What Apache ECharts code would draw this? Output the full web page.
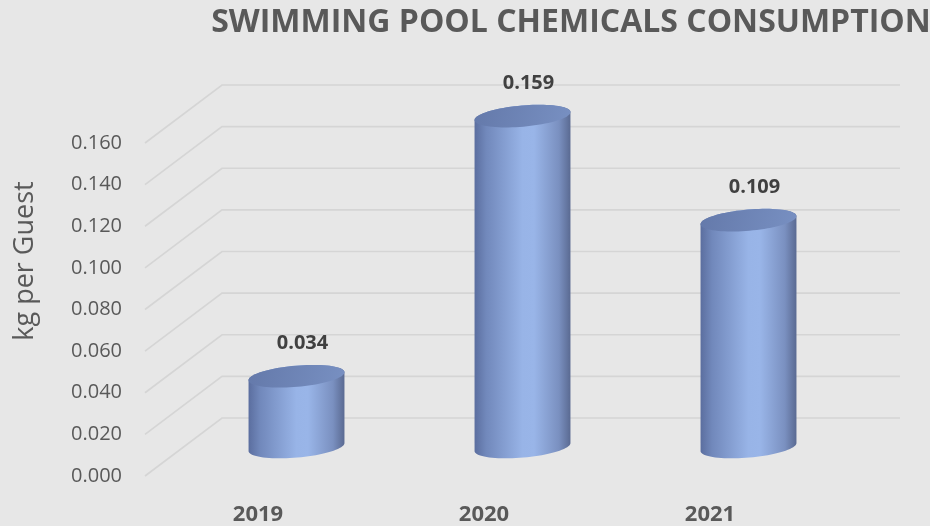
<!DOCTYPE html>
<html><head><meta charset="utf-8">
<script src="https://cdn.jsdelivr.net/npm/echarts@6/dist/echarts.min.js"></script>
<style>html,body{margin:0;padding:0;background:#e7e7e7}#c{width:930px;height:526px}</style>
</head><body><div id="c"></div>
<script>
const categories = ['2019', '2020', '2021'];
const values = [0.034, 0.159, 0.109];
const yTicks = [0, 0.02, 0.04, 0.06, 0.08, 0.10, 0.12, 0.14, 0.16];
const titleText = 'SWIMMING POOL CHEMICALS CONSUMPTION';
const yName = 'kg per Guest';

const DX = 77, DY = -58;           // depth offset of back wall
const FONT = '"Open Sans", "Liberation Sans", sans-serif';
const TEXT = '#595959';

function ellipsePts(cx, cy, rx, ry, rot, t0, t1, n) {
  const pts = [], c = Math.cos(rot), s = Math.sin(rot);
  for (let i = 0; i <= n; i++) {
    const t = t0 + (t1 - t0) * i / n;
    const x = rx * Math.cos(t), y = ry * Math.sin(t);
    pts.push([cx + x * c - y * s, cy + x * s + y * c]);
  }
  return pts;
}

const chart = echarts.init(document.getElementById('c'), null, {renderer: 'canvas'});
chart.setOption({
  backgroundColor: '#e7e7e7',
  animation: false,
  title: {
    text: titleText, left: 566, top: 2, textAlign: 'center',
    textStyle: {fontFamily: FONT, fontSize: 32, fontWeight: 'bold', color: TEXT}
  },
  graphic: [{
    type: 'text', x: 25, y: 261, rotation: Math.PI / 2,
    style: {text: yName, font: '27px ' + FONT, fill: TEXT,
      textAlign: 'center', textVerticalAlign: 'middle', align: 'center', verticalAlign: 'middle'}
  }],
  grid: {left: 145, right: 107, top: 143, bottom: 47, containLabel: false},
  xAxis: {
    type: 'category', data: categories,
    axisLine: {show: false}, axisTick: {show: false}, splitLine: {show: false},
    axisLabel: {margin: 28, fontFamily: FONT, fontSize: 22, fontWeight: 'bold', color: TEXT}
  },
  yAxis: {
    type: 'value', min: 0, max: 0.16, interval: 0.02,
    axisLine: {show: false}, axisTick: {show: false}, splitLine: {show: false},
    axisLabel: {margin: 23, fontFamily: FONT, fontSize: 20, color: TEXT,
      padding: [9, 0, 0, 0], formatter: v => v.toFixed(3)}
  },
  series: [
    {
      type: 'custom', silent: true, z: 1,
      data: yTicks.map(v => [0, v]),
      renderItem: function (params, api) {
        const y = api.coord([0, api.value(1)])[1];
        const L = params.coordSys.x, W = params.coordSys.width;
        return {
          type: 'polyline',
          shape: {points: [[L, y], [L + DX, y + DY], [L + DX + W, y + DY]]},
          style: {stroke: '#d5d5d5', lineWidth: 1.6, fill: null}
        };
      }
    },
    {
      type: 'custom', z: 5,
      data: values.map((v, i) => [i, v]),
      renderItem: function (params, api) {
        const i = api.value(0), v = api.value(1);
        const base = api.coord([i, 0]);
        const top = api.coord([i, v]);
        const band = api.size([1, 0])[0];
        const rx = band * 0.213, ry = rx * 0.22;
        const rot = -5 * Math.PI / 180;
        const cx = base[0] + DX / 2;
        const yb = base[1] + DY / 2;
        const yt = top[1] + DY / 2;
        const body = ellipsePts(cx, yb, rx, ry, rot, 0, Math.PI, 40)
          .concat(ellipsePts(cx, yt, rx, ry, rot, Math.PI, 2 * Math.PI, 40));
        const cap = ellipsePts(cx, yt, rx, ry, rot, 0, 2 * Math.PI, 80);
        return {
          type: 'group',
          children: [
            {
              type: 'polygon', shape: {points: body},
              style: {
                fill: new echarts.graphic.LinearGradient(0, 0, 1, 0, [
                  {offset: 0, color: '#5b6e9f'},
                  {offset: 0.12, color: '#7188bb'},
                  {offset: 0.5, color: '#98b4e7'},
                  {offset: 0.62, color: '#99b5e8'},
                  {offset: 0.88, color: '#7a90c0'},
                  {offset: 1, color: '#5a6a92'}
                ])
              }
            },
            {
              type: 'polygon', shape: {points: cap},
              style: {
                fill: new echarts.graphic.LinearGradient(0, 0, 1, 1, [
                  {offset: 0, color: '#6479aa'},
                  {offset: 1, color: '#7890c2'}
                ])
              }
            },
            {
              type: 'text',
              style: {
                text: v.toFixed(3), x: cx + 6, y: yt - 33,
                font: 'bold 20px ' + FONT, fill: '#404040',
                textAlign: 'center', textVerticalAlign: 'middle', align: 'center', verticalAlign: 'middle'
              }
            }
          ]
        };
      }
    }
  ]
});
</script>
</body></html>
